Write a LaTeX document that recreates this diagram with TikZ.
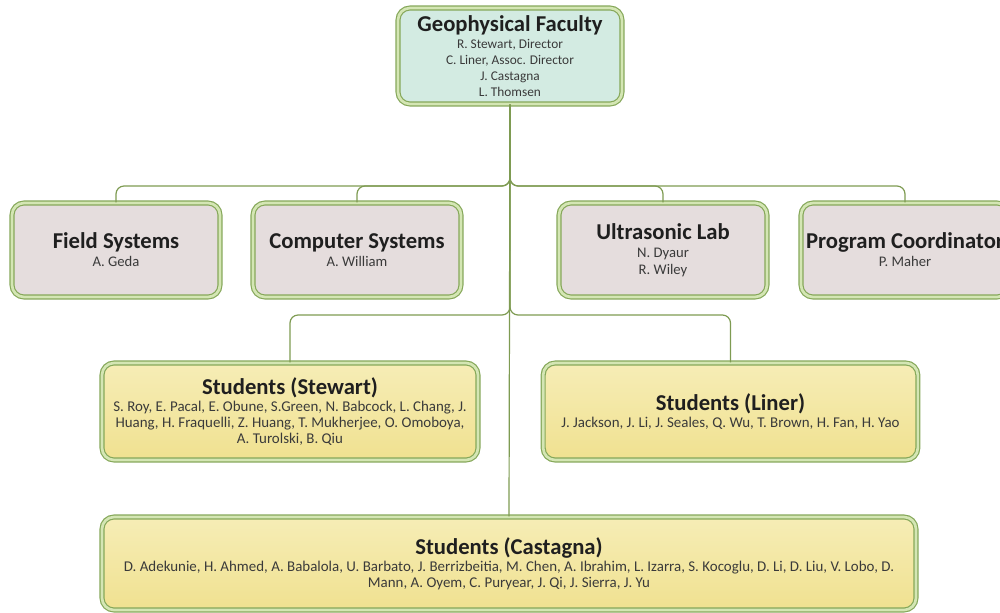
\documentclass[tikz,border=0pt]{standalone}
\usepackage{fontspec}
\setmainfont{Carlito}
\usetikzlibrary{shadows}
\definecolor{conncol}{HTML}{7E9B52}
\definecolor{bord}{HTML}{86A85A}
\definecolor{bordin}{HTML}{D4E6B4}
\definecolor{tealfill}{HTML}{D3EBE2}
\definecolor{grayfill}{HTML}{E5DDDD}
\definecolor{yeltop}{HTML}{F6EDB6}
\definecolor{yelbot}{HTML}{F0E190}
\definecolor{txt}{HTML}{3A3A3A}
\newcommand{\ttl}{\fontsize{17}{20}\selectfont\bfseries\color{black!88}}
\tikzset{
  orgbox/.style={rounded corners=9pt, draw=bord, line width=0.9pt, double=bordin,
    double distance=2pt, align=center, inner sep=2pt,
    font=\fontsize{10}{12}\selectfont, text=txt,
    drop shadow={opacity=0.18, shadow xshift=1.2pt, shadow yshift=-1.2pt}},
  topbox/.style={orgbox, fill=tealfill, minimum width=168pt, minimum height=72pt},
  midbox/.style={orgbox, fill=grayfill, minimum width=156pt, minimum height=70.5pt,
    font=\fontsize{11}{12.5}\selectfont},
  stubox/.style={orgbox, top color=yeltop, bottom color=yelbot, minimum height=72.75pt,
    font=\fontsize{11.2}{12}\selectfont},
  connector/.style={draw=conncol, line width=0.9pt, rounded corners=6pt}
}
\begin{document}
\begin{tikzpicture}[x=0.75pt, y=-0.75pt]
\useasboundingbox (0,0) rectangle (1000,612);
\node[topbox] (top) at (510,56) {{\ttl Geophysical Faculty}\\[1pt]
  R. Stewart, Director\\ C. Liner, Assoc. Director\\ J. Castagna\\ L. Thomsen};
\node[midbox] (field) at (116,250) {{\ttl Field Systems}\\[1pt] A. Geda};
\node[midbox] (comp) at (357,250) {{\ttl Computer Systems}\\[1pt] A. William};
\node[midbox] (ultra) at (663,250) {{\ttl Ultrasonic Lab}\\[1pt] N. Dyaur\\ R. Wiley};
\node[midbox] (prog) at (905,250) {{\ttl Program Coordinator}\\[1pt] P. Maher};
\node[stubox, minimum width=282pt] (stew) at (290,411.5) {{\ttl Students (Stewart)}\\[1pt]
  S. Roy, E. Pacal, E. Obune, S.Green, N. Babcock, L. Chang, J.\\
  Huang, H. Fraquelli, Z. Huang, T. Mukherjee, O. Omoboya,\\
  A. Turolski, B. Qiu};
\node[stubox, minimum width=281pt] (liner) at (730.5,411.5) {{\ttl Students (Liner)}\\[1pt]
  J. Jackson, J. Li, J. Seales, Q. Wu, T. Brown, H. Fan, H. Yao};
\node[stubox, minimum width=610.5pt, minimum height=69.75pt] (cast) at (509,563.5) {{\ttl Students (Castagna)}\\[1pt]
  D. Adekunie, H. Ahmed, A. Babalola, U. Barbato, J. Berrizbeitia, M. Chen, A. Ibrahim, L. Izarra, S. Kocoglu, D. Li, D. Liu, V. Lobo, D.\\
  Mann, A. Oyem, C. Puryear, J. Qi, J. Sierra, J. Yu};
\coordinate (busA) at (510,186);
\coordinate (busB) at (510,315);
\draw[connector] (top.south) -- (busA) -| (field.north);
\draw[connector] (top.south) -- (busA) -| (comp.north);
\draw[connector] (top.south) -- (busA) -| (ultra.north);
\draw[connector] (top.south) -- (busA) -| (prog.north);
\draw[connector] (top.south) -- (busB) -| (stew.north);
\draw[connector] (top.south) -- (busB) -| (liner.north);
\draw[connector] (top.south) -- (cast.north);
\end{tikzpicture}
\end{document}
